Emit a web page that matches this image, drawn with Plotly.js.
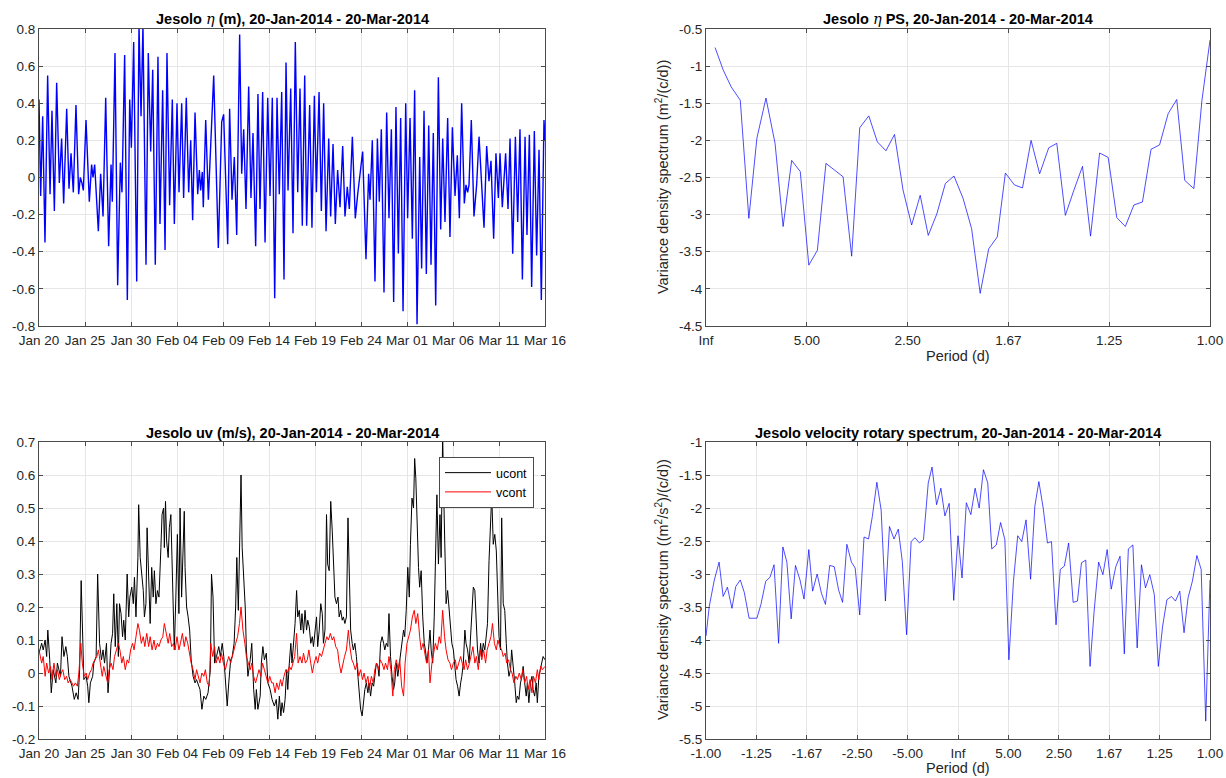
<!DOCTYPE html>
<html><head><meta charset="utf-8">
<script src="https://cdn.plot.ly/plotly-3.0.1.min.js"></script>
<style>html,body{margin:0;padding:0;background:#fff}#chart{width:1226px;height:778px}</style>
</head><body><div id="chart"></div>
<script>
// ---------- data ----------
const startDay = Date.UTC(2014, 0, 20);

// sea level eta (m): days since 20-Jan-2014, values
const etaDays = [
0.00,0.18,0.40,0.65,0.94,1.20,1.41,1.67,1.92,2.21,
2.46,2.68,3.01,3.26,3.48,3.73,4.02,4.31,4.49,4.67,
4.82,5.11,5.47,5.72,5.87,6.05,6.45,6.70,6.96,7.25,
7.57,7.83,7.97,8.26,8.55,8.84,9.02,9.31,9.60,9.86,
10.04,10.29,10.62,10.87,11.09,11.30,11.63,11.88,12.14,12.36,
12.64,12.93,13.15,13.44,13.70,13.91,14.20,14.49,14.71,15.00,
15.22,15.51,15.72,16.01,16.27,16.49,16.70,16.96,17.25,17.43,
17.57,17.75,17.86,18.12,18.41,18.99,19.49,19.86,20.07,20.51,
20.72,20.98,21.23,21.49,21.81,22.03,22.25,22.50,22.79,23.04,
23.26,23.55,23.80,24.02,24.31,24.57,24.86,25.11,25.36,25.62,
25.87,26.12,26.38,26.63,26.85,27.07,27.36,27.61,27.86,28.12,
28.37,28.62,28.88,29.09,29.42,29.67,29.93,30.15,30.44,30.69,
30.94,31.20,31.49,31.70,31.96,32.21,32.46,32.72,33.01,33.26,
33.51,33.73,34.06,34.38,34.64,
35.18,35.54,35.83,35.98,36.23,36.52,36.78,36.99,37.21,37.50,
37.79,38.04,38.30,38.55,38.80,39.06,39.31,39.57,39.86,40.07,
40.33,40.58,40.83,41.09,41.38,41.59,41.85,42.10,42.36,42.61,
42.86,43.12,43.41,43.66,43.88,44.13,44.42,44.67,44.93,45.22,
45.47,45.69,45.94,46.23,46.41,46.59,46.74,46.99,47.28,47.57,47.83,
48.37,48.66,48.91,49.13,49.42,49.67,49.93,50.11,50.36,50.72,
50.98,51.20,51.49,51.78,52.03,52.28,52.54,52.83,53.04,53.30,
53.55,53.84,54.09,54.35,54.60,54.89,55.00];
const etaVals = [
0.42,-0.10,0.33,-0.35,0.55,-0.09,0.36,-0.18,0.51,-0.03,
0.21,-0.14,0.37,-0.06,0.13,-0.08,0.39,-0.09,0.00,-0.03,
-0.07,0.31,-0.13,0.07,0.00,0.07,-0.29,0.02,-0.21,0.43,
-0.37,0.07,-0.13,0.67,-0.58,0.08,-0.08,0.66,-0.66,0.42,
0.16,0.73,-0.56,0.82,0.33,0.82,-0.47,0.67,0.14,0.58,
-0.47,0.65,-0.25,0.47,-0.39,0.67,-0.15,0.42,-0.25,0.40,
-0.08,0.40,-0.11,0.43,-0.08,0.20,-0.23,0.35,-0.09,0.04,
-0.07,0.03,-0.16,0.31,-0.12,0.55,-0.38,0.30,0.34,-0.36,
0.37,-0.12,0.11,-0.31,0.77,0.02,0.26,-0.17,0.49,-0.11,
0.24,-0.37,0.45,-0.17,0.46,-0.35,0.43,-0.10,0.43,-0.65,
0.43,-0.09,0.46,-0.55,0.62,-0.07,0.48,-0.30,0.73,-0.08,
0.48,-0.26,0.55,-0.26,0.39,-0.27,0.44,-0.08,0.46,-0.18,
0.40,-0.29,0.21,-0.21,0.18,-0.25,0.04,-0.16,0.17,-0.21,
-0.05,-0.17,0.22,-0.22,-0.09,
0.14,-0.44,0.02,-0.12,0.20,-0.56,0.21,-0.13,0.26,-0.62,
0.35,-0.22,0.26,-0.67,0.38,-0.41,0.32,-0.72,0.40,-0.22,
0.32,-0.33,0.47,-0.79,0.11,-0.49,0.36,-0.52,0.28,-0.47,
0.24,-0.69,0.54,-0.28,0.21,-0.24,0.32,-0.32,0.27,-0.10,
0.12,-0.22,0.40,-0.14,-0.04,-0.08,-0.04,0.31,-0.21,-0.04,0.22,
-0.27,0.17,-0.02,0.09,-0.33,0.13,-0.11,0.13,-0.16,0.13,
-0.17,0.21,-0.41,0.22,-0.24,0.26,-0.55,0.22,-0.31,0.23,
-0.59,0.25,-0.42,0.15,-0.66,0.31,0.20];

// eta power spectrum: frequency (c/d), log10 density
const psFreq = [0.018,0.034,0.050,0.068,0.085,0.101,0.119,0.137,0.153,0.170,0.187,0.204,0.221,0.238,0.255,0.272,0.289,0.305,0.323,0.340,0.357,0.374,0.391,0.408,0.425,0.441,0.458,0.475,0.492,0.510,0.527,0.544,0.561,0.578,0.594,0.612,0.628,0.645,0.662,0.680,0.696,0.713,0.730,0.747,0.763,0.781,0.798,0.815,0.832,0.849,0.866,0.883,0.900,0.917,0.934,0.950,0.968,0.984,1.000];
const psVals = [-0.75,-1.05,-1.28,-1.46,-3.05,-1.97,-1.43,-2.04,-3.16,-2.27,-2.42,-3.68,-3.48,-2.31,-2.40,-2.49,-3.56,-1.83,-1.67,-2.02,-2.14,-1.92,-2.67,-3.14,-2.74,-3.28,-2.99,-2.58,-2.48,-2.78,-3.19,-4.06,-3.46,-3.30,-2.44,-2.60,-2.64,-2.00,-2.45,-2.10,-2.04,-3.01,-2.67,-2.35,-3.29,-2.17,-2.23,-3.04,-3.16,-2.87,-2.83,-2.12,-2.06,-1.64,-1.45,-2.54,-2.65,-1.46,-0.65];

// velocity: hours since 20-Jan-2014 00:00
const uHours = [0,7,11,16,20,23,28,32,37,44,48,56,60,65,70,74,78,86,92,97,102,106,110,113,117,123,127,130,134,140,143,149,153,158,163,167,171,176,180,184,188,192,195,199,203,207,210,214,218,221,225,230,234,237,242,246,249,253,258,260,264,268,272,275,279,282,286,290,294,298,301,305,309,313,318,321,325,327,330,333,337,340,344,347,350,353,357,361,365,368,372,376,379,381,385,389,393,397,402,407,411,417,420,425,430,435,441,447,450,454,458,463,469,473,478,482,486,491,495,500,504,509,513,516,520,523,527,530,534,538,541,545,551,555,560,564,567,571,577,580,584,588,593,597,603,608,614,619,623,627,631,634,638,642,646,649,653,657,660,664,668,672,675,679,683,686,690,694,698,701,705,709,713,716,720,724,727,731,735,739,742,746,750,753,757,761,765,768,772,776,780,783,787,791,794,798,802,806,809,813,817,820,824,828,832,835,839,843,847,850,854,858,861,865,869,873,876,880,884,887,891,895,899,902,906,910,913,917,921,925,928,932,936,940,943,947,951,954,958,962,966,969,973,977,980,983,986,990,993,997,1001,1005,1008,1012,1016,1020,1023,1027,1031,1034,1038,1042,1046,1049,1053,1056,1059,1062,1066,1070,1073,1077,1081,1085,1088,1092,1096,1100,1103,1107,1111,1114,1118,1122,1126,1129,1133,1137,1140,1144,1148,1152,1155,1159,1163,1166,1170,1174,1178,1181,1185,1189,1193,1196,1200,1204,1207,1211,1215,1219,1222,1226,1230,1233,1237,1241,1245,1248,1252,1256,1260,1263,1267,1271,1274,1278,1282,1286,1289,1293,1297,1300,1304,1308,1312,1315,1320];
const uVals = [0.06,0.09,0.07,0.10,0.05,0.13,0.04,-0.06,0.01,-0.03,0.03,-0.01,0.11,0.05,0.08,0.05,-0.01,-0.04,-0.08,-0.06,-0.08,0.01,0.28,0.14,-0.02,-0.01,-0.04,-0.09,-0.03,-0.01,0.03,0.05,0.30,0.09,0.04,0.07,0.03,0.09,-0.06,0.01,0.09,0.12,0.24,0.08,0.21,0.05,0.21,0.18,0.11,0.16,0.10,0.30,0.17,0.23,0.26,0.21,0.29,0.17,0.35,0.51,0.35,0.30,0.25,0.17,0.21,0.44,0.30,0.15,0.32,0.23,0.31,0.21,0.25,0.23,0.38,0.48,0.50,0.38,0.52,0.40,0.35,0.44,0.48,0.35,0.28,0.07,0.23,0.42,0.18,0.50,0.23,0.42,0.49,0.32,0.20,0.17,0.13,0.04,-0.01,-0.03,-0.02,-0.04,-0.05,-0.11,-0.07,-0.08,-0.06,0.01,0.30,0.23,0.03,0.05,0.08,0.05,0.09,0.05,-0.02,-0.10,-0.03,0.04,0.05,0.09,0.20,0.35,0.19,0.43,0.60,0.38,0.28,0.20,0.07,-0.01,0.04,0.09,-0.05,-0.11,-0.05,-0.11,-0.07,0.03,0.08,0.04,0.06,-0.03,-0.05,-0.08,-0.10,-0.08,-0.14,-0.07,-0.13,-0.09,-0.12,-0.08,0.01,-0.05,0.03,0.09,0.03,0.09,0.15,0.25,0.17,0.19,0.13,0.18,0.12,0.19,0.13,0.16,0.14,0.09,0.11,0.08,0.13,0.17,0.08,0.13,0.21,0.18,0.09,0.13,0.48,0.33,0.31,0.52,0.43,0.33,0.23,0.21,0.23,0.17,0.19,0.16,0.17,0.15,0.17,0.47,0.33,0.13,0.09,0.07,0.09,0.05,-0.01,-0.05,-0.11,-0.13,-0.09,-0.05,-0.03,-0.06,-0.03,-0.07,-0.03,-0.04,-0.01,0.03,0.02,-0.01,0.09,0.11,0.09,0.07,0.09,0.08,0.18,0.05,-0.01,-0.05,-0.03,0.03,-0.01,0.03,0.05,0.09,0.13,0.11,0.19,0.32,0.23,0.39,0.53,0.50,0.65,0.59,0.43,0.32,0.26,0.31,0.17,0.09,0.07,0.03,0.07,0.13,0.07,0.03,0.17,0.32,0.54,0.33,0.48,0.35,0.72,0.53,0.32,0.21,0.25,0.19,0.13,0.09,0.07,0.01,-0.02,-0.04,-0.07,-0.03,-0.01,0.03,0.13,0.09,0.07,0.03,0.11,0.17,0.26,0.25,0.17,0.07,0.03,0.09,0.05,0.09,0.07,0.11,0.15,0.34,0.43,0.54,0.39,0.42,0.37,0.26,0.11,0.07,0.47,0.21,0.19,0.09,0.03,-0.01,0.01,0.07,0.03,-0.03,-0.09,-0.07,-0.08,-0.03,-0.01,0.02,-0.03,-0.07,-0.03,-0.09,-0.03,-0.01,-0.05,-0.07,-0.03,-0.09,-0.01,0.01,0.03,0.05,0.04];
const vHours = [0,7,11,16,20,25,30,34,39,44,48,53,58,62,67,72,76,81,86,90,95,100,104,109,113,118,123,127,132,137,141,146,151,155,160,165,169,174,179,183,188,193,197,202,207,211,216,220,225,230,234,239,244,248,253,258,262,267,272,276,281,286,290,295,300,304,309,313,318,323,327,332,337,341,346,351,355,360,365,369,374,379,383,388,393,397,402,407,411,416,420,425,430,434,439,444,448,453,458,462,467,472,476,481,486,490,495,500,504,509,513,518,523,527,532,537,541,546,551,555,560,565,569,574,579,583,588,593,597,602,607,611,616,620,625,630,634,639,644,648,653,658,662,667,672,676,681,686,690,695,700,704,709,713,718,723,727,732,737,741,746,751,755,760,765,769,774,779,783,788,793,797,802,807,811,816,820,825,830,834,839,844,848,853,858,862,867,872,876,881,886,890,895,900,904,909,913,918,923,927,932,937,941,946,951,955,960,965,969,974,979,983,988,993,997,1002,1007,1011,1016,1020,1025,1030,1034,1039,1044,1048,1053,1058,1062,1067,1072,1076,1081,1086,1090,1095,1100,1104,1109,1113,1118,1123,1127,1132,1137,1141,1146,1151,1155,1160,1165,1169,1174,1179,1183,1188,1193,1197,1202,1207,1211,1216,1220,1225,1230,1234,1239,1244,1248,1253,1258,1262,1267,1272,1276,1281,1286,1290,1295,1300,1304,1309,1313,1320];
const vVals = [0.07,0.03,
0.05,-0.01,0.03,0.00,0.02,-0.02,0.03,-0.01,0.01,-0.02,0.00,0.01,-0.02,-0.01,-0.03,-0.02,-0.03,-0.04,-0.03,-0.04,
0.00,0.09,0.03,-0.01,0.00,-0.02,0.00,0.01,0.03,0.04,0.05,0.07,0.03,-0.01,0.02,-0.01,-0.03,0.01,0.03,0.01,
0.05,0.07,0.09,0.07,0.03,0.05,0.01,0.04,0.03,0.07,0.09,0.07,0.11,0.15,0.13,0.09,0.11,0.08,0.12,0.08,
0.11,0.07,0.10,0.07,0.09,0.08,0.10,0.11,0.15,0.12,0.09,0.12,0.08,0.09,0.07,0.11,0.07,0.09,0.12,0.08,
0.11,0.09,0.05,0.03,0.01,-0.02,0.01,-0.01,-0.03,0.00,-0.01,0.01,-0.03,-0.04,0.09,0.05,0.08,0.03,0.05,0.03,
0.06,0.03,0.01,0.03,0.05,0.03,0.05,0.07,0.09,0.11,0.15,0.20,0.13,0.09,0.05,0.03,0.01,0.03,-0.01,-0.03,
-0.01,0.01,-0.01,0.03,0.01,-0.01,-0.03,-0.01,-0.03,-0.03,-0.06,-0.03,-0.05,-0.02,-0.04,-0.01,0.01,0.00,0.02,0.01,
0.03,0.05,0.12,0.03,0.05,0.03,0.06,0.03,0.04,0.07,0.03,0.00,0.03,0.05,0.03,0.06,0.05,0.07,0.09,0.11,
0.10,0.12,0.10,0.11,0.08,0.07,0.03,0.00,0.03,0.05,0.07,0.13,0.08,0.04,0.03,0.01,0.03,-0.01,0.01,-0.02,
0.00,-0.03,-0.01,-0.05,-0.01,-0.03,0.01,0.03,0.01,0.04,0.03,0.01,0.03,0.01,0.05,0.01,-0.07,0.01,0.04,0.01,
0.04,-0.04,-0.07,0.03,0.09,0.11,0.13,0.17,0.19,0.15,0.18,0.11,0.07,0.09,0.05,0.03,0.07,-0.03,0.03,0.07,
0.09,0.07,0.11,0.09,0.19,0.11,0.07,0.04,0.03,0.01,0.03,0.04,0.01,0.03,0.05,0.03,0.01,0.04,0.01,0.03,
0.05,0.08,0.03,0.05,0.01,0.07,0.04,0.07,0.03,0.07,0.09,0.11,0.15,0.09,0.07,0.10,0.08,0.07,0.05,0.06,
0.03,0.04,0.01,0.00,-0.03,-0.01,-0.02,0.00,-0.02,0.01,-0.03,-0.01,-0.05,-0.02,-0.06,-0.01,-0.03,0.01,-0.02,0.02,
0.01,0.02];
const uvNames = ['ucont','vcont'];

// rotary spectrum: frequency (c/d, negative = clockwise), log10 density
const rotFreq = [-1.000,-0.987,-0.967,-0.948,-0.932,-0.915,-0.897,-0.882,-0.864,-0.848,-0.829,-0.814,-0.798,-0.782,-0.763,-0.746,-0.730,-0.712,-0.695,-0.679,-0.662,-0.645,-0.627,-0.611,-0.592,-0.577,-0.559,-0.542,-0.526,-0.509,-0.491,-0.474,-0.458,-0.441,-0.423,-0.408,-0.390,-0.373,-0.355,-0.340,-0.322,-0.305,-0.288,-0.272,-0.254,-0.237,-0.221,-0.204,-0.186,-0.171,-0.153,-0.137,-0.118,-0.103,-0.085,-0.068,-0.052,-0.035,-0.017,0.000,0.016,0.033,0.051,0.068,0.084,0.101,0.118,0.134,0.152,0.169,0.186,0.202,0.220,0.237,0.253,0.270,0.288,0.305,0.321,0.338,0.355,0.371,0.389,0.406,0.422,0.439,0.457,0.474,0.490,0.507,0.524,0.540,0.558,0.575,0.592,0.608,0.626,0.643,0.660,0.676,0.694,0.711,0.728,0.744,0.761,0.779,0.795,0.812,0.829,0.847,0.863,0.880,0.897,0.913,0.930,0.948,0.965,0.983,1.000];
const rotVals = [-3.94,-3.49,-3.09,-2.82,-3.34,-3.20,-3.52,-3.19,-3.09,-3.28,-3.67,-3.67,-3.67,-3.46,-3.11,-3.05,-2.86,-4.05,-2.59,-2.82,-3.68,-2.87,-3.09,-3.38,-2.63,-3.26,-3.00,-3.29,-3.46,-2.87,-2.89,-3.24,-3.43,-2.55,-2.82,-2.91,-3.62,-2.44,-2.47,-2.13,-1.61,-2.03,-3.41,-2.28,-2.47,-2.32,-2.81,-3.92,-2.51,-2.45,-2.53,-2.48,-1.62,-1.38,-1.95,-1.70,-2.12,-1.93,-3.40,-2.42,-3.06,-1.92,-2.10,-1.70,-2.00,-1.42,-1.62,-2.62,-2.56,-2.22,-2.48,-4.30,-3.11,-2.42,-2.51,-2.18,-3.08,-1.97,-1.60,-2.00,-2.53,-2.51,-3.77,-2.93,-2.88,-2.53,-3.43,-3.41,-2.83,-2.79,-4.40,-3.57,-2.82,-3.01,-2.63,-3.23,-2.89,-2.73,-4.21,-2.62,-2.56,-4.12,-2.86,-3.21,-3.01,-3.31,-4.40,-3.79,-3.39,-3.34,-3.41,-3.26,-3.89,-3.36,-3.11,-2.72,-2.93,-5.23,-3.09];

// tick positions / labels
const etaTickVals = [-0.8,-0.6,-0.4,-0.2,0,0.2,0.4,0.6,0.8];
const etaTickText = ['-0.8','-0.6','-0.4','-0.2','0','0.2','0.4','0.6','0.8'];
const uvTickVals = [-0.2,-0.1,0,0.1,0.2,0.3,0.4,0.5,0.6,0.7];
const uvTickText = ['-0.2','-0.1','0','0.1','0.2','0.3','0.4','0.5','0.6','0.7'];
const psYTickVals = [-4.5,-4,-3.5,-3,-2.5,-2,-1.5,-1,-0.5];
const psYTickText = ['-4.5','-4','-3.5','-3','-2.5','-2','-1.5','-1','-0.5'];
const rotYTickVals = [-5.5,-5,-4.5,-4,-3.5,-3,-2.5,-2,-1.5,-1];
const rotYTickText = ['-5.5','-5','-4.5','-4','-3.5','-3','-2.5','-2','-1.5','-1'];
const psXTickVals = [0,0.2,0.4,0.6,0.8,1.0];
const psXTickText = ['Inf','5.00','2.50','1.67','1.25','1.00'];
const rotXTickVals = [-1,-0.8,-0.6,-0.4,-0.2,0,0.2,0.4,0.6,0.8,1];
const rotXTickText = ['-1.00','-1.25','-1.67','-2.50','-5.00','Inf','5.00','2.50','1.67','1.25','1.00'];

// ---------- build ----------
function iso(ms){ return new Date(ms).toISOString().replace('T',' ').slice(0,19); }
const etaX = etaDays.map(d => iso(startDay + d*86400000));
const uX = uHours.map(h => iso(startDay + h*3600000));
const vX = vHours.map(h => iso(startDay + h*3600000));

const W = 1226, H = 778;
const px = (a,b) => [a/W, b/W];
const py = (top,bot) => [1-bot/H, 1-top/H];

const axCommon = {
  showline:true, linecolor:'#4a4a4a', linewidth:1, mirror:'ticks',
  ticks:'inside', ticklen:4, tickcolor:'#4a4a4a', tickwidth:1,
  showgrid:true, gridcolor:'#e6e6e6', gridwidth:1, zeroline:false,
  tickfont:{size:13.5, color:'#262626'}
};
const dateAx = Object.assign({}, axCommon, {
  type:'date', range:['2014-01-20','2014-03-16'],
  tick0:'2014-01-20', dtick:5*86400000, tickformat:'%b %d', ticklabelstandoff:2
});

const traces = [
  {x:etaX, y:etaVals, xaxis:'x', yaxis:'y', type:'scatter', mode:'lines',
   line:{color:'#0000ff', width:1.4}, showlegend:false},
  {x:psFreq, y:psVals, xaxis:'x2', yaxis:'y2', type:'scatter', mode:'lines',
   line:{color:'#0000ff', width:0.7}, showlegend:false},
  {x:uX, y:uVals, xaxis:'x3', yaxis:'y3', type:'scatter', mode:'lines', name:uvNames[0],
   line:{color:'#000000', width:1}},
  {x:vX, y:vVals, xaxis:'x3', yaxis:'y3', type:'scatter', mode:'lines', name:uvNames[1],
   line:{color:'#ff0000', width:1}},
  {x:rotFreq, y:rotVals, xaxis:'x4', yaxis:'y4', type:'scatter', mode:'lines',
   line:{color:'#0000ff', width:0.7}, showlegend:false}
];

const titleFont = {size:14.5, color:'#000000', family:'Liberation Sans, Arial, sans-serif'};
const labFont = {size:14.5, color:'#262626', family:'Liberation Sans, Arial, sans-serif'};
const ann = (x, y, text, extra) => Object.assign({xref:'paper', yref:'paper', x:x/W, y:1-y/H,
  xanchor:'center', yanchor:'middle', showarrow:false, text:text, font:titleFont}, extra||{});
const etaSym = '<span style="font-family:\'DejaVu Serif\',serif;font-weight:normal"><i>η</i></span>';

const layout = {
  width:W, height:H, margin:{l:0,r:0,t:0,b:0},
  paper_bgcolor:'#ffffff', plot_bgcolor:'#ffffff',
  font:{family:'Liberation Sans, Arial, sans-serif', size:13.5, color:'#262626'},
  xaxis: Object.assign({}, dateAx, {domain:px(39,545), anchor:'y'}),
  yaxis: Object.assign({}, axCommon, {domain:py(29,326), anchor:'x', range:[-0.8,0.8],
    tickvals:etaTickVals, ticktext:etaTickText}),
  xaxis2: Object.assign({}, axCommon, {domain:px(706,1210), anchor:'y2', range:[0,1],
    tickvals:psXTickVals, ticktext:psXTickText, ticklabelstandoff:2}),
  yaxis2: Object.assign({}, axCommon, {domain:py(29,326), anchor:'x2', range:[-4.5,-0.5],
    tickvals:psYTickVals, ticktext:psYTickText}),
  xaxis3: Object.assign({}, dateAx, {domain:px(39,545), anchor:'y3'}),
  yaxis3: Object.assign({}, axCommon, {domain:py(442,739), anchor:'x3', range:[-0.2,0.7],
    tickvals:uvTickVals, ticktext:uvTickText}),
  xaxis4: Object.assign({}, axCommon, {domain:px(706,1210), anchor:'y4', range:[-1,1],
    tickvals:rotXTickVals, ticktext:rotXTickText, ticklabelstandoff:2}),
  yaxis4: Object.assign({}, axCommon, {domain:py(442,739), anchor:'x4', range:[-5.5,-1],
    tickvals:rotYTickVals, ticktext:rotYTickText}),
  legend:{x:439/W, y:1-457/H, xanchor:'left', yanchor:'top', bgcolor:'#ffffff',
    bordercolor:'#4a4a4a', borderwidth:1, font:{size:12.5, color:'#000000'},
    tracegroupgap:0, itemwidth:46},
  annotations:[
    ann(292, 19, '<b>Jesolo ' + etaSym + ' (m), 20-Jan-2014 - 20-Mar-2014</b>'),
    ann(958, 19, '<b>Jesolo ' + etaSym + ' PS, 20-Jan-2014 - 20-Mar-2014</b>'),
    ann(292, 433, '<b>Jesolo uv (m/s), 20-Jan-2014 - 20-Mar-2014</b>'),
    ann(958, 433, '<b>Jesolo velocity rotary spectrum, 20-Jan-2014 - 20-Mar-2014</b>'),
    ann(662, 177, 'Variance density spectrum (m<sup>2</sup>/(c/d))',
      {textangle:-90, font:labFont}),
    ann(662, 590, 'Variance density spectrum ((m<sup>2</sup>/s<sup>2</sup>)/(c/d))',
      {textangle:-90, font:labFont}),
    ann(958, 356, 'Period (d)', {font:labFont}),
    ann(958, 768, 'Period (d)', {font:labFont})
  ]
};

Plotly.newPlot('chart', traces, layout, {staticPlot:true, displayModeBar:false});
</script>
</body></html>
